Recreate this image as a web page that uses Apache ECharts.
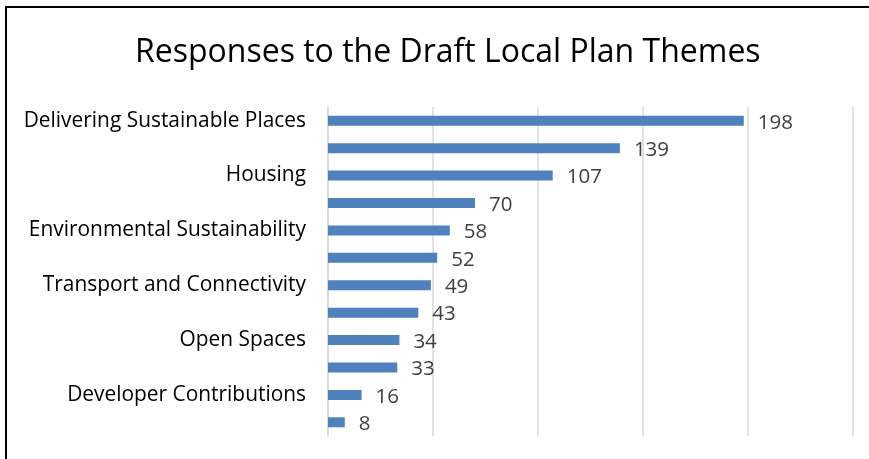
<!DOCTYPE html>
<html><head><meta charset="utf-8">
<script src="https://cdn.jsdelivr.net/npm/echarts@6/dist/echarts.min.js"></script>
<style>html,body{margin:0;padding:0;background:#fff}#c{width:869px;height:459px}</style>
</head><body><div id="c"></div>
<script>
var categories = ["Delivering Sustainable Places","Theme 2","Housing","Theme 4","Environmental Sustainability","Theme 6","Transport and Connectivity","Theme 8","Open Spaces","Theme 10","Developer Contributions","Theme 12"];
var values = [198,139,107,70,58,52,49,43,34,33,16,8];
var chart = echarts.init(document.getElementById('c'));
var FONT = "Open Sans";
chart.setOption({
  animation:false,
  title:{text:"Responses to the Draft Local Plan Themes",left:130,top:32,
    textStyle:{fontFamily:FONT,fontSize:32,fontWeight:'normal',color:'#000'}},
  graphic:[{type:'rect',shape:{x:6,y:7,width:900,height:500},style:{fill:null,stroke:'#000',lineWidth:2},silent:true,z:100}],
  grid:{left:328,right:16,top:107,bottom:23,containLabel:false},
  xAxis:{type:'value',min:0,max:250,interval:50,
    axisLabel:{show:false},axisLine:{show:false},axisTick:{show:false},
    splitLine:{show:true,lineStyle:{color:'#D9D9D9',width:1.5}}},
  yAxis:{type:'category',data:categories,inverse:true,
    axisLine:{show:true,lineStyle:{color:'#D9D9D9',width:1.5}},axisTick:{show:false},
    axisLabel:{interval:1,margin:22,padding:[4,0,0,0],fontFamily:FONT,fontSize:20.9,color:'#000'}},
  series:[{type:'bar',data:values,barWidth:10,itemStyle:{color:'#4F81BD'},
    label:{show:true,position:'right',distance:14,fontFamily:FONT,fontSize:20.5,color:'#404040',offset:[0,2]}}]
});
</script></body></html>
